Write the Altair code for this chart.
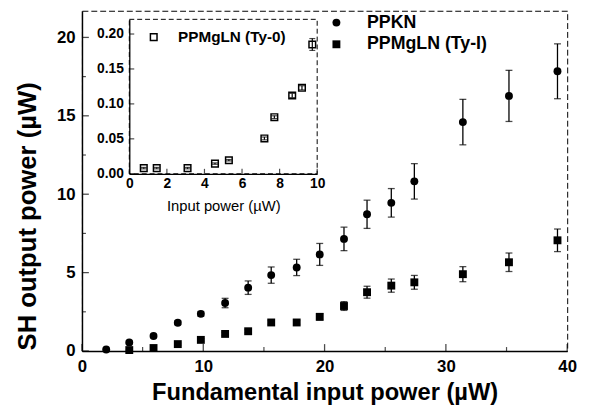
import altair as alt
import pandas as pd

# ---------------- data ----------------
ppkn_x = [2.0, 3.9, 5.9, 7.9, 9.8, 11.8, 13.7, 15.6, 17.7, 19.6, 21.6, 23.5, 25.5, 27.4, 31.4, 35.2, 39.2]
ppkn_y = [0.10, 0.55, 0.96, 1.80, 2.37, 3.06, 4.04, 4.84, 5.33, 6.16, 7.15, 8.72, 9.45, 10.82, 14.60, 16.27, 17.84]
ppkn_err = [0.05, 0.08, 0.10, 0.12, 0.15, 0.30, 0.43, 0.52, 0.52, 0.70, 0.75, 0.90, 0.91, 1.13, 1.45, 1.63, 1.75]

tyI_x = [3.9, 5.9, 7.9, 9.8, 11.8, 13.7, 15.6, 17.7, 19.6, 21.6, 23.5, 25.5, 27.4, 31.4, 35.2, 39.2]
tyI_y = [0.06, 0.19, 0.44, 0.71, 1.09, 1.26, 1.82, 1.82, 2.18, 2.87, 3.75, 4.17, 4.38, 4.90, 5.66, 7.06]
tyI_err = [0.03, 0.05, 0.07, 0.08, 0.10, 0.10, 0.12, 0.12, 0.20, 0.28, 0.38, 0.42, 0.44, 0.48, 0.59, 0.72]

ty0_x = [0.77, 1.46, 3.10, 4.56, 5.30, 7.19, 7.72, 8.67, 9.19, 9.74]
ty0_y = [0.0081, 0.0081, 0.0081, 0.0146, 0.0194, 0.0506, 0.081, 0.112, 0.123, 0.185]
ty0_err = [0.001, 0.001, 0.001, 0.001, 0.001, 0.002, 0.002, 0.003, 0.003, 0.0085]

series_names = ["PPKN", "PPMgLN (Ty-I)"]
inset_name = "PPMgLN (Ty-0)"

x_ticks = [0, 10, 20, 30, 40]
x_minor = [5, 15, 25, 35]
y_ticks = [0, 5, 10, 15, 20]
y_minor = [2.5, 7.5, 12.5, 17.5]
ix_ticks = [0, 2, 4, 6, 8, 10]
iy_ticks = [0.0, 0.05, 0.10, 0.15, 0.20]

X_DOM = [0, 40]
Y_DOM = [0, 21.7]
IX_DOM = [0, 10]
IY_DOM = [0, 0.221]

# ---------------- layout ----------------
W, H = 492, 345
IX_RANGE = [48, 238.5]
IY_RANGE = [165.3, 8.7]
FONT = "Liberation Sans"

main_df = pd.DataFrame({
    "x": ppkn_x + tyI_x,
    "y": ppkn_y + tyI_y,
    "err": ppkn_err + tyI_err,
    "series": [series_names[0]] * len(ppkn_x) + [series_names[1]] * len(tyI_x),
})
main_df["lo"] = main_df["y"] - main_df["err"]
main_df["hi"] = main_df["y"] + main_df["err"]

inset_df = pd.DataFrame({"x": ty0_x, "y": ty0_y, "err": ty0_err, "series": inset_name})
inset_df["lo"] = inset_df["y"] - inset_df["err"]
inset_df["hi"] = inset_df["y"] + inset_df["err"]

x_axis = alt.Axis(
    title="Fundamental input power (µW)", values=x_ticks, ticks=False, grid=False,
    domainColor="black", domainWidth=1.5, labelFlush=False, labelFontSize=17,
    labelFontWeight="bold", labelColor="black", labelPadding=8,
    titleFontSize=24, titleFontWeight="bold", titleColor="black", titlePadding=6,
)
y_axis = alt.Axis(
    title="SH output power (µW)", values=y_ticks, ticks=False, grid=False,
    domainColor="black", domainWidth=1.5, labelFlush=False, labelFontSize=17,
    labelFontWeight="bold", labelColor="black", labelPadding=7,
    titleFontSize=26, titleFontWeight="bold", titleColor="black",
    titleX=-55, titleY=208, titleAngle=270, titleBaseline="middle", titleAlign="center",
)
ix_axis = alt.Axis(
    title="Input power (µW)", orient="bottom", offset=-(H - IY_RANGE[0]), values=ix_ticks,
    ticks=False, grid=False, domainColor="black", domainWidth=1.3, labelFlush=False,
    labelFontSize=14, labelFontWeight="bold", labelColor="black", labelPadding=3,
    titleFontSize=15, titleFontWeight="normal", titleColor="black", titlePadding=8,
)
iy_axis = alt.Axis(
    title=None, orient="left", offset=-IX_RANGE[0], values=iy_ticks, format=".2f",
    ticks=False, grid=False, domainColor="black", domainWidth=1.3, labelFlush=False,
    labelFontSize=14, labelFontWeight="bold", labelColor="black", labelPadding=6,
)


def mx(field):
    return alt.X(field, type="quantitative", scale=alt.Scale(domain=X_DOM, nice=False, zero=False), axis=x_axis)


def my(field):
    return alt.Y(field, type="quantitative", scale=alt.Scale(domain=Y_DOM, nice=False, zero=False), axis=y_axis)


def ix(field):
    return alt.X(field, type="quantitative",
                 scale=alt.Scale(domain=IX_DOM, range=IX_RANGE, nice=False, zero=False), axis=ix_axis)


def iy(field):
    return alt.Y(field, type="quantitative",
                 scale=alt.Scale(domain=IY_DOM, range=IY_RANGE, nice=False, zero=False), axis=iy_axis)


# ---------------- main panel ----------------
base = alt.Chart(main_df)
err_rule = base.mark_rule(color="black", strokeWidth=1.3).encode(x=mx("x"), y=my("lo"), y2="hi")
cap_lo = base.mark_tick(color="black", orient="horizontal", size=7, thickness=1.3).encode(x=mx("x"), y=my("lo"))
cap_hi = base.mark_tick(color="black", orient="horizontal", size=7, thickness=1.3).encode(x=mx("x"), y=my("hi"))
pts = base.mark_point(filled=True, color="black", opacity=1, size=64).encode(
    x=mx("x"), y=my("y"),
    shape=alt.Shape("series:N", scale=alt.Scale(domain=series_names, range=["circle", "square"]),
                    legend=alt.Legend(orient="none", legendX=249, legendY=3, title=None,
                                      labelFont=FONT, labelFontSize=18, labelFontWeight="bold",
                                      labelColor="black", labelOffset=22, symbolSize=64,
                                      symbolFillColor="black", symbolStrokeColor="black",
                                      rowPadding=4)),
)

xt_df = pd.DataFrame({"t": x_ticks})
xm_df = pd.DataFrame({"t": x_minor})
yt_df = pd.DataFrame({"t": y_ticks})
ym_df = pd.DataFrame({"t": y_minor})
xt = alt.Chart(xt_df).mark_tick(color="black", orient="vertical", size=7, thickness=1.3, yOffset=-3.5).encode(
    x=mx("t"), y=alt.YDatum(0, scale=alt.Scale(domain=Y_DOM, nice=False, zero=False), axis=y_axis))
xm = alt.Chart(xm_df).mark_tick(color="black", orient="vertical", size=4, thickness=1.2, yOffset=-2).encode(
    x=mx("t"), y=alt.YDatum(0, scale=alt.Scale(domain=Y_DOM, nice=False, zero=False), axis=y_axis))
yt = alt.Chart(yt_df).mark_tick(color="black", orient="horizontal", size=7, thickness=1.3, xOffset=3.5).encode(
    y=my("t"), x=alt.XDatum(0, scale=alt.Scale(domain=X_DOM, nice=False, zero=False), axis=x_axis))
ym = alt.Chart(ym_df).mark_tick(color="black", orient="horizontal", size=4, thickness=1.2, xOffset=2).encode(
    y=my("t"), x=alt.XDatum(0, scale=alt.Scale(domain=X_DOM, nice=False, zero=False), axis=x_axis))

main = alt.layer(err_rule, cap_lo, cap_hi, pts, xt, xm, yt, ym)

# ---------------- inset ----------------
ibase = alt.Chart(inset_df)
frame = alt.Chart(pd.DataFrame({"a": [IX_DOM[0]], "b": [IX_DOM[1]], "c": [IY_DOM[0]], "d": [IY_DOM[1]]})).mark_rect(
    fill="white", fillOpacity=0, stroke="black", strokeWidth=1, strokeDash=[5, 3]
).encode(x=ix("a"), x2="b", y=iy("c"), y2="d")
i_rule = ibase.mark_rule(color="black", strokeWidth=1.2).encode(x=ix("x"), y=iy("lo"), y2="hi")
i_cap_lo = ibase.mark_tick(color="black", orient="horizontal", size=6, thickness=1.2).encode(x=ix("x"), y=iy("lo"))
i_cap_hi = ibase.mark_tick(color="black", orient="horizontal", size=6, thickness=1.2).encode(x=ix("x"), y=iy("hi"))
i_pts = ibase.mark_point(filled=False, color="black", strokeWidth=1.5, opacity=1, size=45).encode(
    x=ix("x"), y=iy("y"),
    shape=alt.Shape("series:N", scale=alt.Scale(domain=[inset_name], range=["square"]),
                    legend=alt.Legend(orient="none", legendX=65, legendY=19, title=None,
                                      labelFont=FONT, labelFontSize=15.5, labelFontWeight="bold",
                                      labelColor="black", labelOffset=17, symbolSize=45,
                                      symbolFillColor="white", symbolStrokeColor="black",
                                      symbolStrokeWidth=1.5)),
)
ixt = alt.Chart(pd.DataFrame({"t": ix_ticks})).mark_tick(
    color="black", orient="vertical", size=5, thickness=1.2, yOffset=-2.5).encode(
    x=ix("t"), y=alt.YDatum(0, scale=alt.Scale(domain=IY_DOM, range=IY_RANGE, nice=False, zero=False), axis=iy_axis))
iyt = alt.Chart(pd.DataFrame({"t": iy_ticks})).mark_tick(
    color="black", orient="horizontal", size=5, thickness=1.2, xOffset=2.5).encode(
    y=iy("t"), x=alt.XDatum(0, scale=alt.Scale(domain=IX_DOM, range=IX_RANGE, nice=False, zero=False), axis=ix_axis))

inset = alt.layer(frame, i_rule, i_cap_lo, i_cap_hi, i_pts, ixt, iyt)

chart = alt.layer(main, inset).resolve_scale(
    x="independent", y="independent", shape="independent"
).resolve_legend(shape="independent").properties(
    width=W, height=H,
    autosize=alt.AutoSizeParams(type="none"),
    padding={"left": 75, "top": 0, "right": 14, "bottom": 56},
).configure(font=FONT).configure_view(stroke="black", strokeWidth=1, strokeDash=[6, 3])

chart.save("out.html", embed_options={"renderer": "svg", "actions": False})
